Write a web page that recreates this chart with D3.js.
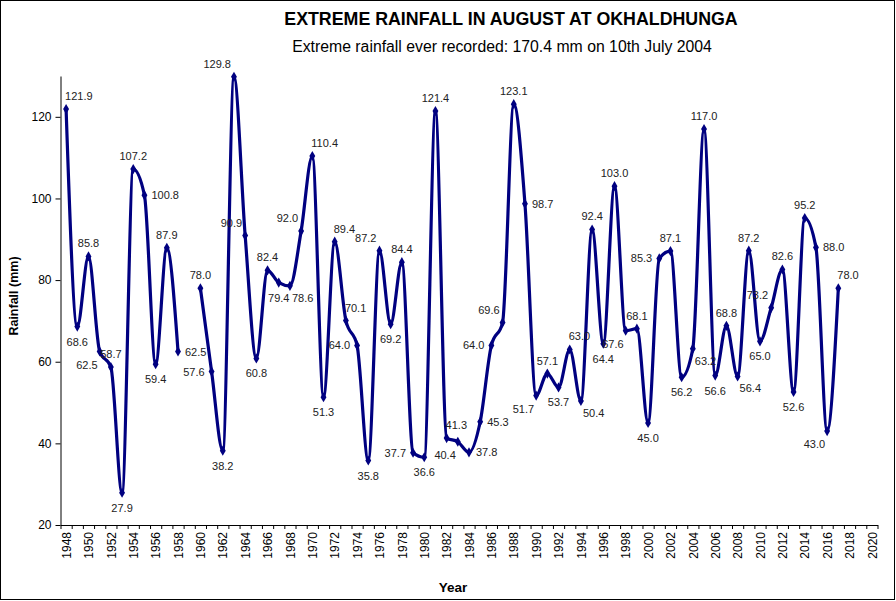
<!DOCTYPE html>
<html>
<head>
<meta charset="utf-8">
<script src="https://cdn.jsdelivr.net/npm/d3@7"></script>
<style>
  body { margin: 0; background: #fff; }
  svg { display: block; font-family: "Liberation Sans", Arial, sans-serif; }
</style>
</head>
<body>
<svg id="chart" width="896" height="601"></svg>
<script>
// August extreme rainfall, Okhaldhunga (mm); 1959 has no record
const years = d3.range(1948, 2018)
const rainfall = [
  121.9, 68.6, 85.8, 62.5, 58.7, 27.9, 107.2, 100.8, 59.4, 87.9,
  62.5, null, 78.0, 57.6, 38.2, 129.8, 90.9, 60.8, 82.4, 79.4,
  78.6, 92.0, 110.4, 51.3, 89.4, 70.1, 64.0, 35.8, 87.2, 69.2,
  84.4, 37.7, 36.6, 121.4, 41.3, 40.4, 37.8, 45.3, 64.0, 69.6,
  123.1, 98.7, 51.7, 57.1, 53.7, 63.0, 50.4, 92.4, 64.4, 103.0,
  67.6, 68.1, 45.0, 85.3, 87.1, 56.2, 63.2, 117.0, 56.6, 68.8,
  56.4, 87.2, 65.0, 73.2, 82.6, 52.6, 95.2, 88.0, 43.0, 78.0
]
// where each data label sits next to its point
const labelSide = [
  'tr', 'b', 't', 'bl', 't', 'b', 't', 'r', 'b', 't',
  'r', null, 't', 'l', 'b', 'tl', 'tl', 'b', 't', 'b',
  'br', 'tl', 'tr', 'b', 'tr', 'tr', 'l', 'b', 'tl', 'b',
  't', 'l', 'b', 't', 'tr', 'bl', 'r', 'r', 'l', 'tl',
  't', 'r', 'bl', 't', 'b', 'tr', 'br', 't', 'b', 't',
  'bl', 't', 'b', 'l', 't', 'b', 'br', 't', 'b', 't',
  'br', 't', 'b', 'tl', 't', 'b', 't', 'r', 'bl', 'tr'
]
const yTicks = [20, 40, 60, 80, 100, 120]
const xLabelYears = d3.range(1948, 2021, 2)

const title = 'EXTREME RAINFALL IN AUGUST AT OKHALDHUNGA'
const subtitle = 'Extreme rainfall ever recorded: 170.4 mm on 10th July 2004'

const navy = '#000080'
const svg = d3.select('#chart')

const x = d3.scaleLinear().domain([1947.5, 2020.5]).range([60.5, 877.5])
const y = d3.scaleLinear().domain([20, 130]).range([525, 76])

const data = years.map((yr, i) => ({ year: yr, value: rainfall[i], side: labelSide[i] }))

// outer frame
svg.append('rect')
  .attr('x', 0.5).attr('y', 0.5)
  .attr('width', 894).attr('height', 599)
  .attr('fill', 'none').attr('stroke', '#000')

// titles
svg.append('text')
  .attr('x', 511).attr('y', 25)
  .attr('text-anchor', 'middle')
  .attr('font-size', 17.8).attr('font-weight', 'bold')
  .text(title)
svg.append('text')
  .attr('x', 502).attr('y', 52)
  .attr('text-anchor', 'middle')
  .attr('font-size', 15.8)
  .text(subtitle)

// y axis
const yAxis = svg.append('g')
  .attr('transform', 'translate(60.5,0)')
  .call(d3.axisLeft(y).tickValues(yTicks).tickSize(5).tickSizeOuter(0).tickPadding(4))
yAxis.select('.domain').attr('stroke', '#000')
yAxis.selectAll('.tick line').attr('stroke', '#000')
yAxis.selectAll('text').attr('font-size', 12).attr('fill', '#000')
  .attr('font-family', '"Liberation Sans", Arial, sans-serif')

// x axis: tick marks between categories, labels every second year
const boundaries = d3.range(1947.5, 2021, 1)
const xTicks = svg.append('g')
  .attr('transform', 'translate(0,525)')
  .call(d3.axisBottom(x).tickValues(boundaries).tickFormat('').tickSize(4).tickSizeOuter(0))
xTicks.select('.domain').attr('stroke', '#000')
xTicks.selectAll('.tick line').attr('stroke', '#000')

const xLabels = svg.append('g')
  .attr('transform', 'translate(0,525)')
  .call(d3.axisBottom(x).tickValues(xLabelYears).tickFormat(d3.format('d')).tickSize(0))
xLabels.select('.domain').remove()
xLabels.selectAll('text')
  .attr('font-size', 12).attr('fill', '#000')
  .attr('font-family', '"Liberation Sans", Arial, sans-serif')
  .attr('text-anchor', 'end')
  .attr('transform', 'rotate(-90)')
  .attr('x', -7).attr('y', 0).attr('dy', '0.35em')

// axis titles
svg.append('text')
  .attr('transform', 'translate(18,296) rotate(-90)')
  .attr('text-anchor', 'middle')
  .attr('font-size', 12.5).attr('font-weight', 'bold')
  .text('Rainfall (mm)')
svg.append('text')
  .attr('x', 453).attr('y', 592)
  .attr('text-anchor', 'middle')
  .attr('font-size', 13.5).attr('font-weight', 'bold')
  .text('Year')

// smoothed series line
const line = d3.line()
  .defined(d => d.value != null)
  .x(d => x(d.year))
  .y(d => y(d.value))
  .curve(d3.curveMonotoneX)

svg.append('path')
  .datum(data)
  .attr('d', line)
  .attr('fill', 'none')
  .attr('stroke', navy)
  .attr('stroke-width', 3.2)
  .attr('stroke-linejoin', 'round')

const pts = data.filter(d => d.value != null)

svg.append('g').selectAll('path')
  .data(pts)
  .join('path')
  .attr('transform', d => `translate(${x(d.year)},${y(d.value)})`)
  .attr('d', d3.symbol(d3.symbolDiamond, 30))
  .attr('fill', navy)

// data labels
const place = {
  t:  { dx: 0,  dy: -9,  anchor: 'middle' },
  b:  { dx: 0,  dy: 19,  anchor: 'middle' },
  l:  { dx: -7, dy: 4,   anchor: 'end' },
  r:  { dx: 7,  dy: 4,   anchor: 'start' },
  tl: { dx: -3, dy: -9,  anchor: 'end' },
  tr: { dx: -1, dy: -9,  anchor: 'start' },
  bl: { dx: -2, dy: 17,  anchor: 'end' },
  br: { dx: 2,  dy: 16,  anchor: 'start' }
}

svg.append('g').selectAll('text')
  .data(pts)
  .join('text')
  .attr('x', d => x(d.year) + place[d.side].dx)
  .attr('y', d => y(d.value) + place[d.side].dy)
  .attr('text-anchor', d => place[d.side].anchor)
  .attr('font-size', 11)
  .attr('fill', '#222')
  .text(d => d.value.toFixed(1))
</script>
</body>
</html>
